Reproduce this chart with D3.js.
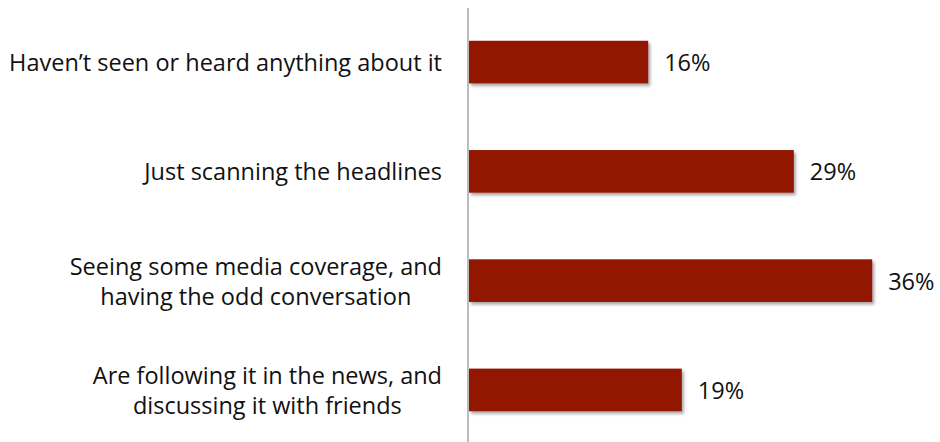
<!DOCTYPE html>
<html>
<head>
<meta charset="utf-8">
<script src="https://cdn.jsdelivr.net/npm/d3@7"></script>
<style>
  body { margin: 0; background: #fff; }
  svg text { font-family: "Open Sans", Lato, sans-serif; font-size: 23.5px; fill: #111; }
</style>
</head>
<body>
<div id="chart"></div>
<script>
const categories = [
  ["Haven\u2019t seen or heard anything about it"],
  ["Just scanning the headlines"],
  ["Seeing some media coverage, and", "having the odd conversation"],
  ["Are following it in the news, and", "discussing it with friends"]
];
const values = [16, 29, 36, 19];

const width = 940;
const height = 442;
const axisX = 468;

const svg = d3.select("#chart")
  .append("svg")
  .attr("width", width)
  .attr("height", height);

// soft shadow under the bars
const filter = svg.append("defs").append("filter")
  .attr("id", "shadow")
  .attr("x", "-5%").attr("y", "-20%")
  .attr("width", "115%").attr("height", "150%");
filter.append("feDropShadow")
  .attr("dx", 2).attr("dy", 2.5)
  .attr("stdDeviation", 1.8)
  .attr("flood-color", "#000")
  .attr("flood-opacity", 0.35);

const x = d3.scaleLinear()
  .domain([0, 40])
  .range([axisX + 1, axisX + 1 + 448]);

const y = d3.scaleBand()
  .domain(d3.range(values.length))
  .range([8, 444])
  .paddingInner(0.61)
  .paddingOuter(0.3);

// bars
svg.selectAll("rect.bar")
  .data(values)
  .join("rect")
  .attr("class", "bar")
  .attr("x", x(0))
  .attr("y", (d, i) => y(i))
  .attr("width", d => x(d) - x(0))
  .attr("height", y.bandwidth())
  .attr("fill", "#931300")
  .attr("filter", "url(#shadow)");

// value labels
svg.selectAll("text.value")
  .data(values)
  .join("text")
  .attr("class", "value")
  .attr("x", d => x(d) + 16)
  .attr("y", (d, i) => y(i) + y.bandwidth() / 2)
  .attr("dy", "0.38em")
  .text(d => d + "%");

// category labels: lines centred within a block right-aligned to the axis
const labelRight = 442;
const lineH = 30;
const groups = svg.selectAll("g.cat")
  .data(categories)
  .join("g")
  .attr("class", "cat");

groups.each(function(lines, i) {
  const g = d3.select(this);
  const cy = y(i) + y.bandwidth() / 2;
  const texts = g.selectAll("text")
    .data(lines)
    .join("text")
    .attr("y", (d, k) => cy + (k - (lines.length - 1) / 2) * lineH)
    .attr("dy", "0.38em")
    .attr("text-anchor", "middle")
    .text(d => d);
  let maxW = 0;
  texts.each(function() { maxW = Math.max(maxW, this.getComputedTextLength()); });
  texts.attr("x", labelRight - maxW / 2);
});

// vertical axis line
svg.append("line")
  .attr("x1", axisX).attr("x2", axisX)
  .attr("y1", 8).attr("y2", height)
  .attr("stroke", "#a6a6a6")
  .attr("stroke-width", 1.5);
</script>
</body>
</html>
